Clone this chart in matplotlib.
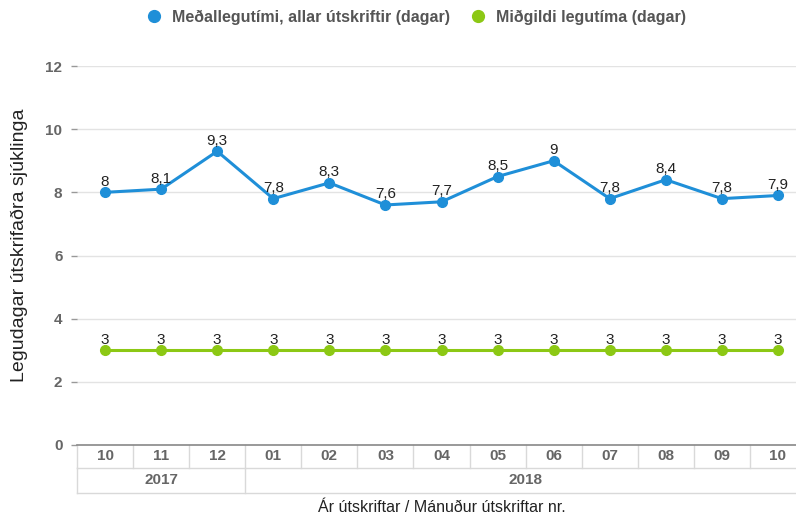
import matplotlib
matplotlib.use("Agg")
import matplotlib.pyplot as plt
from matplotlib.lines import Line2D
import matplotlib.transforms as mtrans

plt.rcParams['font.family'] = ['Liberation Sans', 'DejaVu Sans']

months = ['10', '11', '12', '01', '02', '03', '04', '05', '06', '07', '08', '09', '10']
years = ['2017', '2018']
year_counts = [3, 10]
mean_vals = [8, 8.1, 9.3, 7.8, 8.3, 7.6, 7.7, 8.5, 9, 7.8, 8.4, 7.8, 7.9]
median_vals = [3, 3, 3, 3, 3, 3, 3, 3, 3, 3, 3, 3, 3]
series_names = ['Meðallegutími, allar útskriftir (dagar)', 'Miðgildi legutíma (dagar)']
y_ticks = [0, 2, 4, 6, 8, 10, 12]

blue = '#1f8fd8'
green = '#8cc814'

W, H = 796, 515
fig = plt.figure(figsize=(W / 100, H / 100), dpi=100)
left, right, top, bottom = 77, 806, 66, 445
ax = fig.add_axes([left / W, 1 - bottom / H, (right - left) / W, (bottom - top) / H])

x = list(range(len(months)))
ax.plot(x, mean_vals, color=blue, lw=2.2, marker='o', ms=7, zorder=3)
ax.plot(x, median_vals, color=green, lw=2.2, marker='o', ms=7, zorder=3)

for xi, v in zip(x, mean_vals):
    ax.annotate(f"{v:g}".replace('.', ','), (xi, v), xytext=(0, 2.5), textcoords='offset points',
                ha='center', va='bottom', fontsize=11, color='#222', zorder=4)
for xi, v in zip(x, median_vals):
    ax.annotate(f"{v:g}".replace('.', ','), (xi, v), xytext=(0, 2.5), textcoords='offset points',
                ha='center', va='bottom', fontsize=11, color='#222', zorder=4)

ax.set_xlim(-0.5, len(months) - 0.5)
ax.set_ylim(0, 12)
ax.set_yticks(y_ticks)
ax.set_yticklabels([str(t) for t in y_ticks], fontsize=11, fontweight='bold', color='#666')
ax.tick_params(axis='y', length=4.5, width=1, color='#999', pad=6)
ax.set_xticks([])
for s in ['top', 'right', 'left']:
    ax.spines[s].set_visible(False)
ax.spines['bottom'].set_color('#888')
ax.spines['bottom'].set_linewidth(1.2)
for t in y_ticks[1:]:
    ax.axhline(t, color='#e3e3e3', lw=1, zorder=0)

fig.text(19 / W, 1 - 245 / H, 'Legudagar útskrifaðra sjúklinga', rotation=90,
         ha='center', va='center', fontsize=14, color='#222')

# category table below axis
trans = mtrans.blended_transform_factory(ax.transData, ax.transAxes)
axh = bottom - top
r1 = -23 / axh
r2 = -48 / axh
gc = '#d9d9d9'
n = len(months)
for i in range(n + 1):
    ax.add_line(Line2D([i - 0.5, i - 0.5], [0, r1], transform=trans, color=gc, lw=1, clip_on=False))
ax.add_line(Line2D([-0.5, n - 0.5], [r1, r1], transform=trans, color=gc, lw=1, clip_on=False))
ax.add_line(Line2D([-0.5, n - 0.5], [r2, r2], transform=trans, color=gc, lw=1, clip_on=False))
for i, m in enumerate(months):
    ax.text(i, r1 / 2, m, transform=trans, ha='center', va='center', fontsize=11,
            fontweight='bold', color='#666', clip_on=False)
start = 0
bounds = [-0.5]
for yname, c in zip(years, year_counts):
    ax.text(start + (c - 1) / 2, (r1 + r2) / 2, yname, transform=trans, ha='center', va='center',
            fontsize=11, fontweight='bold', color='#666', clip_on=False)
    start += c
    bounds.append(start - 0.5)
for b in bounds:
    ax.add_line(Line2D([b, b], [r1, r2], transform=trans, color=gc, lw=1, clip_on=False))

fig.text((left + right) / 2 / W, 1 - 507 / H, 'Ár útskriftar / Mánuður útskriftar nr.',
         ha='center', va='center', fontsize=11.5, color='#222')

handles = [Line2D([], [], color=blue, marker='o', ls='none', ms=8.5),
           Line2D([], [], color=green, marker='o', ls='none', ms=8.5)]
leg = fig.legend(handles, series_names, loc='center', bbox_to_anchor=(412 / W, 1 - 17 / H),
                 ncol=2, frameon=False, handletextpad=0.1, columnspacing=0.8,
                 prop={'size': 11.5, 'weight': 'bold'})
for t in leg.get_texts():
    t.set_color('#555')

fig.savefig('out.png', dpi=100)
